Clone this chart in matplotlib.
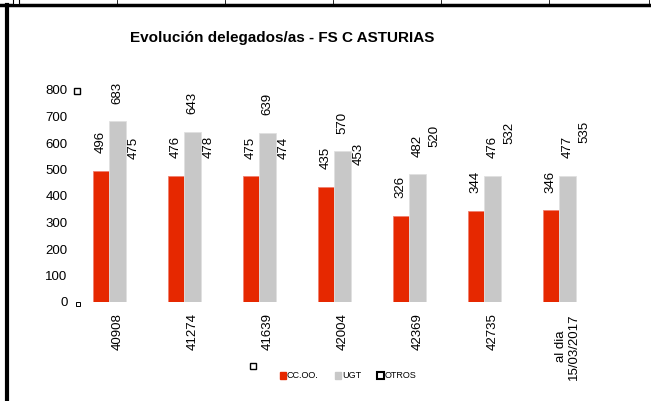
import numpy as np
import matplotlib
matplotlib.use('Agg')
from matplotlib import pyplot as plt
from matplotlib.lines import Line2D
from matplotlib.patches import Patch

plt.rcParams['font.family'] = ['Liberation Sans', 'DejaVu Sans']

# data
categories = ['40908', '41274', '41639', '42004', '42369', '42735', 'al dia\n15/03/2017']
ccoo = [496, 476, 475, 435, 326, 344, 346]
ugt = [683, 643, 639, 570, 482, 476, 477]
otros = [475, 478, 474, 453, 520, 532, 535]

red = '#E62800'
grey = '#C8C8C8'

fig = plt.figure(figsize=(6.51, 4.01), dpi=100)
ax = fig.add_axes([80/651, 99/401, 525/651, 212/401])

x = np.arange(len(categories))
w = 0.222
b1 = ax.bar(x - w, ccoo, w, color=red, edgecolor='#F08070', linewidth=0.6)
b2 = ax.bar(x, ugt, w, color=grey, edgecolor='#E0E0E0', linewidth=0.6)
b3 = ax.bar(x + w, otros, w, alpha=0)  # OTROS bars are not visible, only labels

for b in (b1, b2, b3):
    ax.bar_label(b, rotation=90, padding=12.5, fontsize=9.5, alpha=1)

ax.set_xlim(-0.5, len(categories) - 0.5)
ax.set_ylim(0, 800)
ax.set_yticks(range(0, 801, 100))
ax.set_xticks(x)
ax.set_xticklabels(categories, rotation=90, fontsize=9.5, va='top', ha='center',
                   multialignment='center')
ax.tick_params(axis='both', length=0, labelsize=9.5)
ax.tick_params(axis='x', pad=8)
ax.tick_params(axis='y', pad=9)
for s in ax.spines.values():
    s.set_visible(False)

fig.text(282/651, 1 - 38/401, 'Evolución delegados/as - FS C ASTURIAS',
         ha='center', va='center', fontsize=11, fontweight='bold')

handles = [Patch(facecolor=red, edgecolor=red),
           Patch(facecolor=grey, edgecolor=grey),
           Patch(facecolor='white', edgecolor='black', linewidth=1.5)]
fig.legend(handles, ['CC.OO.', 'UGT', 'OTROS'], loc='center',
           bbox_to_anchor=(348/651, 1 - 376/401), ncol=3, frameon=False,
           fontsize=6.5, handlelength=0.7, handleheight=0.7,
           handletextpad=0.1, columnspacing=1.8)

# page border bits around the chart
fig.add_artist(Line2D([0, 650/651], [1 - 5/401, 1 - 5/401], color='black', lw=2.5))
fig.add_artist(Line2D([7/651, 7/651], [0, 1 - 5/401], color='black', lw=3))
for tx in [117, 225, 333, 441, 549, 649]:
    fig.add_artist(Line2D([tx/651, tx/651], [1 - 5/401, 1], color='black', lw=0.6))
fig.add_artist(Line2D([16/651], [1 - 1/401], marker='s', ms=4, mfc='white',
                      mec='black', mew=0.8, ls='none'))

# stray marker squares
for mx, my in [(77, 91), (253, 366)]:
    fig.add_artist(Line2D([mx/651], [1 - my/401], marker='s', ms=4.5,
                          mfc='white', mec='black', mew=1, ls='none'))
fig.add_artist(Line2D([78/651], [1 - 304/401], marker='s', ms=3.5,
                      mfc='white', mec='black', mew=0.7, ls='none'))

fig.savefig('out.png', dpi=100)
